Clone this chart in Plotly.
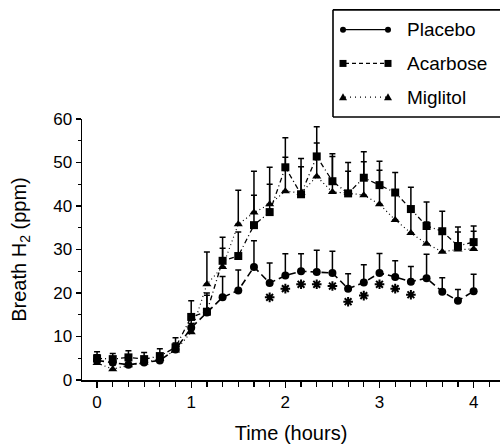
import plotly.graph_objects as go

# ---- data ----
minutes = [0, 10, 20, 30, 40, 50, 60, 70, 80, 90, 100, 110, 120,
           130, 140, 150, 160, 170, 180, 190, 200, 210, 220, 230, 240]

placebo = [4.5, 4.0, 3.5, 4.0, 4.5, 7.0, 12.0, 15.5, 19.0, 20.6, 26.0, 22.3, 24.0,
           25.0, 24.8, 24.6, 21.0, 22.4, 24.6, 23.7, 22.6, 23.4, 20.3, 18.2, 20.4]
placebo_err = [1.3, 1.3, 1.3, 1.3, 1.3, 1.5, 2.5, 4.0, 4.8, 4.7, 6.0, 4.6, 5.0,
               4.0, 5.0, 5.0, 3.4, 4.1, 4.5, 3.7, 3.5, 5.5, 3.2, 2.6, 3.9]

acarbose = [5.0, 4.8, 5.2, 4.8, 5.5, 7.5, 14.5, 15.7, 27.4, 28.5, 35.6, 38.6, 48.9,
            42.7, 51.4, 45.7, 42.9, 46.5, 44.8, 43.1, 39.3, 35.4, 34.2, 30.8, 31.7]
acarbose_err = [1.5, 1.3, 1.5, 1.5, 1.7, 2.2, 3.7, 4.3, 5.4, 5.5, 6.9, 6.4, 6.8,
                8.2, 6.8, 6.3, 7.1, 6.0, 5.5, 4.6, 5.0, 5.5, 4.6, 4.4, 3.7]

miglitol = [3.9, 2.5, 3.4, 4.0, 4.8, 6.8, 11.0, 22.0, 26.0, 35.8, 38.5, 40.4, 43.4,
            43.0, 46.8, 43.2, 43.0, 42.5, 40.4, 36.8, 33.8, 31.3, 29.5, 30.0, 30.1]
miglitol_err = [1.0, 1.0, 1.0, 1.0, 1.0, 1.5, 2.0, 7.4, 4.3, 7.8, 9.5, 8.5, 7.8,
                6.0, 7.7, 8.2, 5.0, 7.7, 7.8, 6.0, 5.0, 5.0, 5.0, 4.0, 4.1]

star_minutes = [110, 120, 130, 140, 150, 160, 170, 180, 190, 200]
star_y = [19.0, 21.0, 22.0, 22.0, 21.6, 18.0, 19.4, 22.0, 21.0, 19.6]

series_names = ["Placebo", "Acarbose", "Miglitol"]
x_ticks = [0, 1, 2, 3, 4]

hours = [m / 60 for m in minutes]
star_hours = [m / 60 for m in star_minutes]

FONT = "Liberation Sans, Arial, Helvetica, sans-serif"

fig = go.Figure()

def add_series(y, err, symbol, dash, lw, size, name):
    fig.add_trace(go.Scatter(
        x=hours, y=y, mode="lines+markers", name=name,
        line=dict(color="black", width=lw, dash=dash),
        marker=dict(symbol=symbol, size=size, color="black"),
        error_y=dict(type="data", array=err, arrayminus=[0] * len(err),
                     symmetric=False, color="black", thickness=1.5, width=3),
        showlegend=False,
    ))

add_series(miglitol, miglitol_err, "triangle-up", "1px,3px", 1.2, 8, series_names[2])
add_series(acarbose, acarbose_err, "square", "5px,3px,1px,3px", 1.3, 8, series_names[1])
add_series(placebo, placebo_err, "circle", "7px,4px", 1.6, 8, series_names[0])

fig.add_trace(go.Scatter(
    x=star_hours, y=star_y, mode="markers",
    marker=dict(symbol="asterisk-open", size=8, color="black",
                line=dict(color="black", width=2)),
    showlegend=False, hoverinfo="skip",
))

# ---- layout in window pixels ----
W, H = 500, 444
L, R, T, B = 82, 500, 119, 382

def px(x):
    return (x - L) / (R - L)
def py(y):
    return (B - y) / (B - T)

# legend box: white fill, border only on top, left and bottom (right side runs off the page)
bx0, bx1, by0, by1 = 333, 540, 9, 117
shapes = [
    dict(type="rect", xref="paper", yref="paper",
         x0=px(bx0), x1=px(bx1), y0=py(by1), y1=py(by0),
         line=dict(width=0), fillcolor="white", layer="above"),
    dict(type="line", xref="paper", yref="paper", x0=px(bx0), x1=px(bx1),
         y0=py(by0), y1=py(by0), line=dict(color="black", width=1.6), layer="above"),
    dict(type="line", xref="paper", yref="paper", x0=px(bx0), x1=px(bx1),
         y0=py(by1), y1=py(by1), line=dict(color="black", width=1.6), layer="above"),
    dict(type="line", xref="paper", yref="paper", x0=px(bx0), x1=px(bx0),
         y0=py(by1), y1=py(by0), line=dict(color="black", width=1.6), layer="above"),
]
annotations = []
rows = [29, 63, 97]
dashes = ["solid", "4px,3px", "1px,4px"]
for name, yy, dsh, kind in zip(series_names, rows, dashes, ["circle", "square", "tri"]):
    shapes.append(dict(type="line", xref="paper", yref="paper",
                       x0=px(345), x1=px(386), y0=py(yy), y1=py(yy),
                       line=dict(color="black", width=1.3, dash=dsh), layer="above"))
    for cx in (343, 388):
        if kind == "circle":
            shapes.append(dict(type="circle", xref="paper", yref="paper",
                               xsizemode="pixel", ysizemode="pixel",
                               xanchor=px(cx), yanchor=py(yy),
                               x0=-3, x1=3, y0=-3, y1=3,
                               fillcolor="black", line=dict(width=0), layer="above"))
        elif kind == "square":
            shapes.append(dict(type="rect", xref="paper", yref="paper",
                               xsizemode="pixel", ysizemode="pixel",
                               xanchor=px(cx), yanchor=py(yy),
                               x0=-3.5, x1=3.5, y0=-3.5, y1=3.5,
                               fillcolor="black", line=dict(width=0), layer="above"))
        else:
            shapes.append(dict(type="path", xref="paper", yref="paper",
                               xsizemode="pixel", ysizemode="pixel",
                               xanchor=px(cx), yanchor=py(yy),
                               path="M-4,-3 L4,-3 L0,4 Z",
                               fillcolor="black", line=dict(width=0), layer="above"))
    annotations.append(dict(xref="paper", yref="paper", x=px(405), y=py(yy),
                            xanchor="left", yanchor="middle", showarrow=False,
                            text=name, font=dict(size=19, color="black", family=FONT)))

fig.update_layout(
    width=W, height=H,
    margin=dict(l=L, r=W - R, t=T, b=H - B, pad=0),
    paper_bgcolor="white", plot_bgcolor="white",
    font=dict(family=FONT, color="black", size=17),
    shapes=shapes, annotations=annotations,
    showlegend=False,
)

fig.update_xaxes(
    range=[-0.16, 4.28], tickvals=x_ticks, ticktext=[str(v) for v in x_ticks],
    ticks="outside", ticklen=6, tickwidth=1.3, tickcolor="black",
    minor=dict(dtick=1 / 6, tick0=0, ticks="outside", ticklen=5, tickwidth=1.2, tickcolor="black"),
    showline=True, linecolor="black", linewidth=1.5,
    showgrid=False, zeroline=False,
    tickfont=dict(size=17),
    title=dict(text="Time (hours)", font=dict(size=20), standoff=18),
)
fig.update_yaxes(
    range=[0, 60], dtick=10, tick0=0,
    ticks="outside", ticklen=5, tickwidth=1.3, tickcolor="black",
    minor=dict(dtick=5, ticks="outside", ticklen=3, tickwidth=1.2, tickcolor="black"),
    showline=True, linecolor="black", linewidth=1.5,
    showgrid=False, zeroline=False,
    tickfont=dict(size=17),
    title=dict(text="Breath H<sub>2</sub> (ppm)", font=dict(size=20), standoff=21),
)

fig.write_html(
    "out.html",
    config={"displayModeBar": False, "staticPlot": True},
    post_script=("document.body.style.margin='0';"
                 "document.documentElement.style.overflow='hidden';"
                 "document.body.style.overflow='hidden';"),
)
